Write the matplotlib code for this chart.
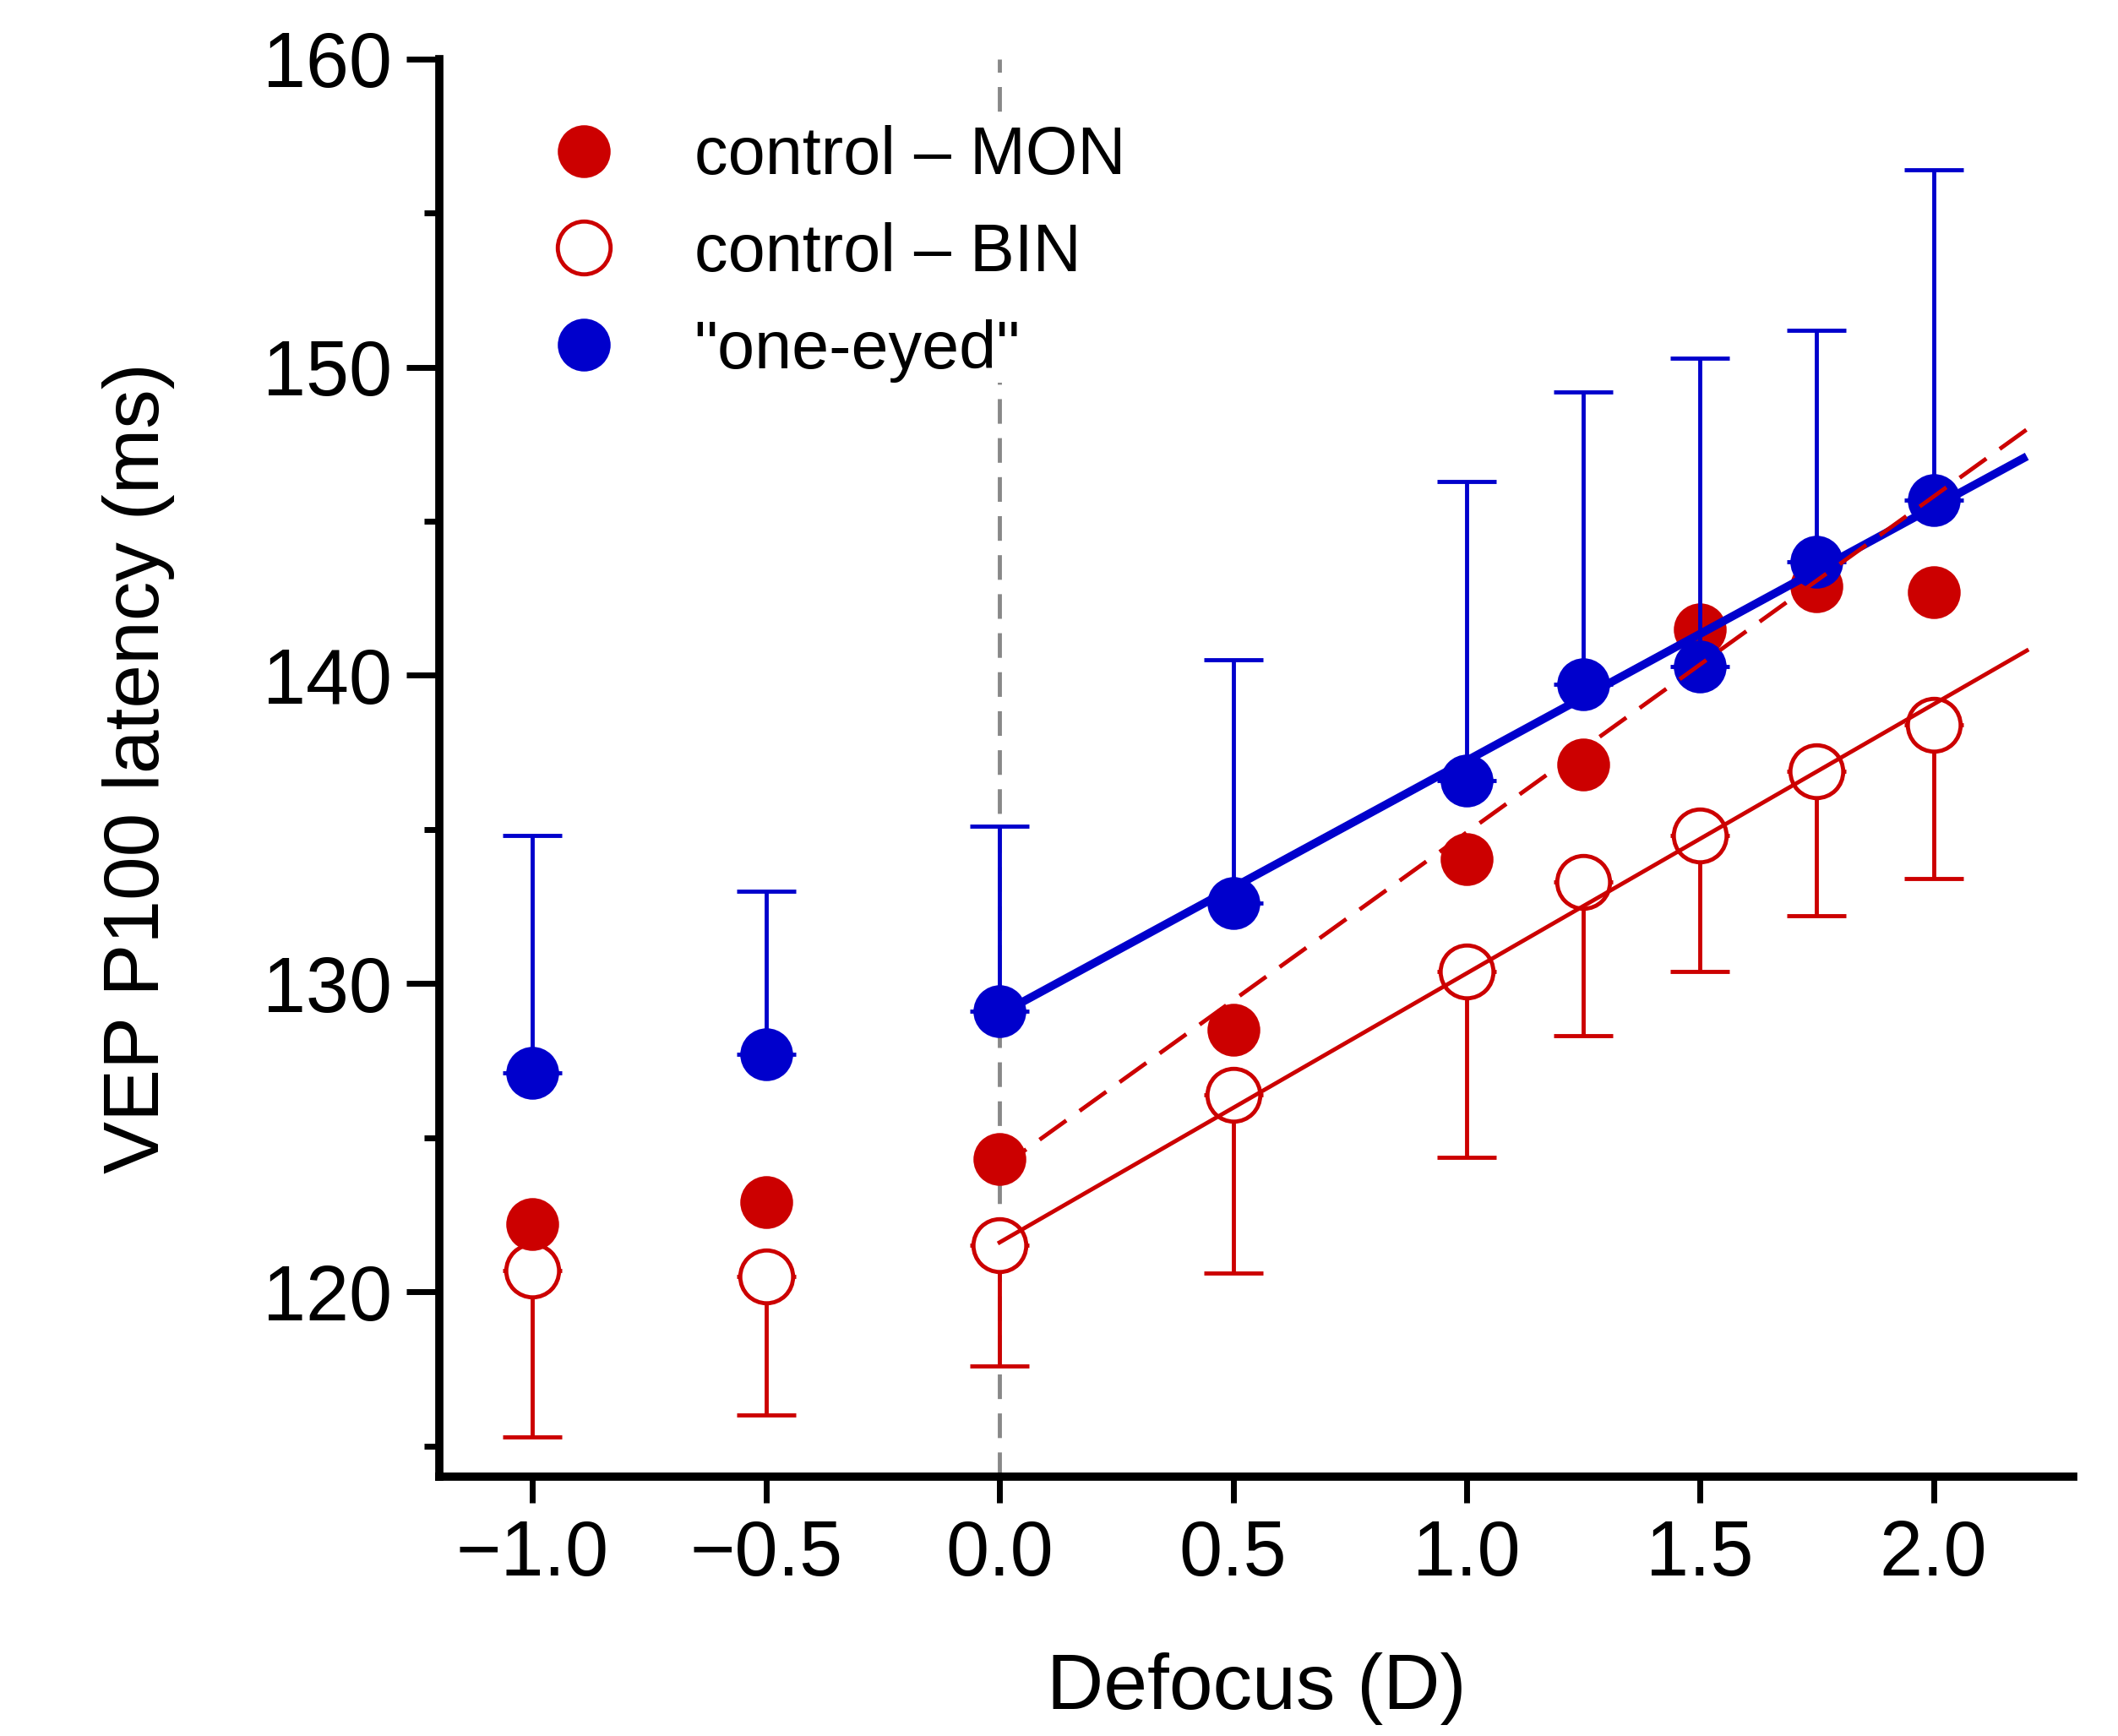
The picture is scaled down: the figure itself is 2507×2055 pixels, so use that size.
import matplotlib
matplotlib.use("Agg")
import matplotlib.pyplot as plt
import numpy as np

plt.rcParams['font.family'] = ['Liberation Sans', 'DejaVu Sans']

# ---- data ----
defocus = [-1.0, -0.5, 0.0, 0.5, 1.0, 1.25, 1.5, 1.75, 2.0]
one_eyed = [127.1, 127.7, 129.1, 132.6, 136.6, 139.7, 140.3, 143.7, 145.7]
one_eyed_upper = [134.8, 133.0, 135.1, 140.5, 146.3, 149.2, 150.3, 151.2, 156.4]
mon = [122.2, 122.9, 124.3, 128.5, 134.05, 137.1, 141.5, 142.9, 142.7]
bin_ = [120.7, 120.5, 121.5, 126.4, 130.4, 133.3, 134.8, 136.9, 138.4]
bin_lower = [115.3, 116.0, 117.6, 120.6, 124.35, 128.3, 130.4, 132.2, 133.4]

# regression lines (intercept at 0 D, slope per D), drawn over 0..2.2 D
fit_range = [0.0, 2.2]
fit_one_eyed = (129.0, 8.23)
fit_mon = (124.0, 10.9)
fit_bin = (121.6, 8.73)

xticks = [-1.0, -0.5, 0.0, 0.5, 1.0, 1.5, 2.0]
xtick_labels = ['\u22121.0', '\u22120.5', '0.0', '0.5', '1.0', '1.5', '2.0']
yticks = [120, 130, 140, 150, 160]

RED = '#CC0000'
BLUE = '#0000CC'

fig = plt.figure(figsize=(25.07, 20.55), dpi=100)
ax = fig.add_axes([0.2074, 0.1494, 0.979 - 0.2074, 0.966 - 0.1494])

ax.set_xlim(-1.2, 2.3)
ax.set_ylim(114, 160)

# vertical reference line
ax.axvline(0, color='#888888', lw=3.5, dashes=(6, 3.5), zorder=0)

ms = 45
cs = 25
x = np.array(defocus)

# BIN open circles with lower error
b = np.array(bin_)
ax.errorbar(x, b, yerr=[b - np.array(bin_lower), np.zeros_like(b)], fmt='none',
            ecolor=RED, elinewidth=3.5, capsize=cs, capthick=3.5, zorder=2)
ax.plot(x, b, 'o', ms=ms, mfc='white', mec=RED, mew=3.5, zorder=3,
        label='control \u2013 BIN')

# MON filled red
ax.plot(x, mon, 'o', ms=ms, mfc=RED, mec=RED, mew=0, zorder=4,
        label='control \u2013 MON')

# one-eyed blue with upper error
o = np.array(one_eyed)
ax.errorbar(x, o, yerr=[np.zeros_like(o), np.array(one_eyed_upper) - o], fmt='none',
            ecolor=BLUE, elinewidth=3.5, capsize=cs, capthick=3.5, zorder=5)
ax.plot(x, o, 'o', ms=ms, mfc=BLUE, mec=BLUE, mew=0, zorder=6,
        label='"one-eyed"')

# fit lines
fx = np.array(fit_range)
ax.plot(fx, fit_bin[0] + fit_bin[1] * fx, color=RED, lw=3.5, zorder=7)
ax.plot(fx, fit_one_eyed[0] + fit_one_eyed[1] * fx, color=BLUE, lw=7, zorder=8,
        solid_capstyle='butt')
ax.plot(fx, fit_mon[0] + fit_mon[1] * fx, color=RED, lw=3.5, dashes=(8, 4), zorder=9)

# spines / ticks
for s in ['top', 'right']:
    ax.spines[s].set_visible(False)
for s in ['left', 'bottom']:
    ax.spines[s].set_linewidth(7)
ax.set_xticks(xticks)
ax.set_xticklabels(xtick_labels)
ax.set_yticks(yticks)
ax.set_yticks([115, 125, 135, 145, 155], minor=True)
ax.tick_params(axis='y', which='major', length=28, width=5, labelsize=66, pad=12)
ax.tick_params(axis='y', which='minor', length=13, width=5)
ax.tick_params(axis='x', which='major', length=22, width=5, labelsize=66, pad=14)

ax.set_xlabel('Defocus (D)', fontsize=67, labelpad=52)
ax.set_ylabel('VEP P100 latency (ms)', fontsize=67, labelpad=75)

# legend
h, l = ax.get_legend_handles_labels()
order = [1, 0, 2]
leg = ax.legend([h[i] for i in order], [l[i] for i in order], loc='center left',
                bbox_to_anchor=(0.068, 0.8626), frameon=True, fontsize=57,
                handlelength=1.0, handletextpad=1.15, labelspacing=0.50, numpoints=1,
                borderaxespad=0, borderpad=0.0, fancybox=False)
leg.get_frame().set_facecolor('white')
leg.get_frame().set_edgecolor('none')
leg.get_frame().set_alpha(1)
leg.set_zorder(20)

fig.savefig('out.png', dpi=100)
